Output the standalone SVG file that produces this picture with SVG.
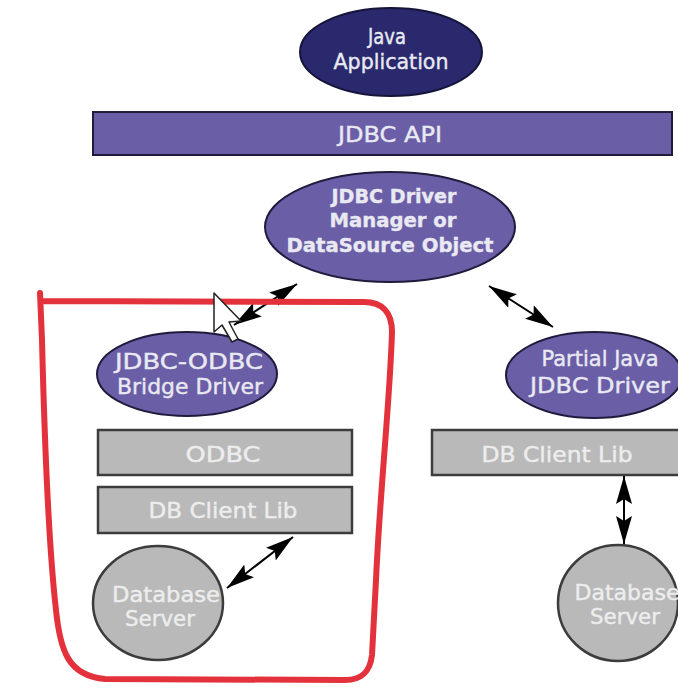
<svg xmlns="http://www.w3.org/2000/svg" width="678" height="688" viewBox="0 0 678 688">
  <style>
    .lbl { font-family: "DejaVu Sans", "Liberation Sans", sans-serif; fill: #e9e9f2; stroke: #e9e9f2; stroke-width: 0.4; text-anchor: middle; }
    .navy { fill: #2a296d; stroke: #15143a; stroke-width: 2; }
    .purple { fill: #6a5ea6; stroke: #1e1b3c; stroke-width: 2; }
    .gray { fill: #b9b9b9; stroke: #3c3c3c; stroke-width: 2.5; }
    .graytxt { font-family: "DejaVu Sans", "Liberation Sans", sans-serif; fill: #ededed; stroke: #ededed; stroke-width: 0.4; text-anchor: middle; }
    .conn { stroke: #000; stroke-width: 2; fill: none; marker-start: url(#ah); marker-end: url(#ah); }
  </style>
  <defs>
    <marker id="ah" viewBox="0 0 28 18" refX="28" refY="9" markerWidth="28" markerHeight="18" markerUnits="userSpaceOnUse" orient="auto-start-reverse">
      <path d="M0,1 L28,9 L0,17 L5,9 Z" fill="#000"/>
    </marker>
  </defs>
  <rect width="678" height="688" fill="#ffffff"/>

  <g id="java-application">
    <ellipse class="navy" cx="391" cy="52" rx="91" ry="44"/>
    <text class="lbl" x="387" y="44" font-size="21" textLength="38" lengthAdjust="spacingAndGlyphs">Java</text>
    <text class="lbl" x="391" y="69" font-size="21" textLength="115" lengthAdjust="spacingAndGlyphs">Application</text>
  </g>

  <g id="jdbc-api">
    <rect class="purple" x="93" y="112" width="579" height="43"/>
    <text class="lbl" x="390" y="142" font-size="22" textLength="104" lengthAdjust="spacingAndGlyphs">JDBC API</text>
  </g>

  <g id="driver-manager">
    <ellipse class="purple" cx="390" cy="227" rx="125" ry="55"/>
    <text class="lbl" x="394" y="203" font-size="20" font-weight="bold" textLength="125" lengthAdjust="spacingAndGlyphs">JDBC Driver</text>
    <text class="lbl" x="393" y="227" font-size="20" font-weight="bold" textLength="127" lengthAdjust="spacingAndGlyphs">Manager or</text>
    <text class="lbl" x="390" y="252" font-size="20" font-weight="bold" textLength="207" lengthAdjust="spacingAndGlyphs">DataSource Object</text>
  </g>

  <g id="bridge-driver">
    <ellipse class="purple" cx="187" cy="374" rx="90" ry="42"/>
    <text class="lbl" x="189" y="369" font-size="22" textLength="148" lengthAdjust="spacingAndGlyphs">JDBC-ODBC</text>
    <text class="lbl" x="190" y="394" font-size="22" textLength="146" lengthAdjust="spacingAndGlyphs">Bridge Driver</text>
  </g>

  <g id="partial-driver">
    <ellipse class="purple" cx="594" cy="375" rx="88" ry="43"/>
    <text class="lbl" x="600" y="366" font-size="22" textLength="117" lengthAdjust="spacingAndGlyphs">Partial Java</text>
    <text class="lbl" x="600" y="393" font-size="22" textLength="140" lengthAdjust="spacingAndGlyphs">JDBC Driver</text>
  </g>

  <g id="odbc">
    <rect class="gray" x="98" y="430" width="254" height="45"/>
    <text class="graytxt" x="223" y="462" font-size="21" textLength="75" lengthAdjust="spacingAndGlyphs">ODBC</text>
  </g>

  <g id="db-client-lib-left">
    <rect class="gray" x="98" y="487" width="254" height="46"/>
    <text class="graytxt" x="223" y="518" font-size="21" textLength="149" lengthAdjust="spacingAndGlyphs">DB Client Lib</text>
  </g>

  <g id="db-client-lib-right">
    <rect class="gray" x="432" y="430" width="250" height="45"/>
    <text class="graytxt" x="557" y="462" font-size="21" textLength="151" lengthAdjust="spacingAndGlyphs">DB Client Lib</text>
  </g>

  <g id="database-server-left">
    <ellipse class="gray" cx="158" cy="603" rx="65" ry="57" stroke-width="2"/>
    <text class="graytxt" x="166" y="602" font-size="21" textLength="108" lengthAdjust="spacingAndGlyphs">Database</text>
    <text class="graytxt" x="160" y="626" font-size="21" textLength="70" lengthAdjust="spacingAndGlyphs">Server</text>
  </g>

  <g id="database-server-right">
    <ellipse class="gray" cx="618" cy="603" rx="60" ry="58" stroke-width="2"/>
    <text class="graytxt" x="627" y="600" font-size="21" textLength="105" lengthAdjust="spacingAndGlyphs">Database</text>
    <text class="graytxt" x="625" y="624" font-size="21" textLength="70" lengthAdjust="spacingAndGlyphs">Server</text>
  </g>

  <g id="connectors">
    <line class="conn" x1="297" y1="284" x2="234" y2="325"/>
    <line class="conn" x1="489" y1="286" x2="553" y2="327"/>
    <line class="conn" x1="624" y1="476" x2="624" y2="544"/>
    <line class="conn" x1="293" y1="537" x2="227" y2="588"/>
  </g>

  <!-- hand-drawn red outline around the bridge column -->
  <path d="M40,293 L42,340 C44,420 48,540 56,610 C60,650 68,676 105,679 L345,680 C362,680 370,672 372,655 L376,580 C380,490 390,400 392,332 C392,312 382,302 364,302 L42,301"
        fill="none" stroke="#e3323b" stroke-width="6" stroke-linejoin="round" stroke-linecap="round"/>

  <!-- mouse pointer -->
  <path d="M214,293 L214,332 L222,325 L232,342 L238,339 L229,322 L241,321 Z"
        fill="#ffffff" stroke="#222" stroke-width="1.5" stroke-linejoin="round"/>
</svg>
